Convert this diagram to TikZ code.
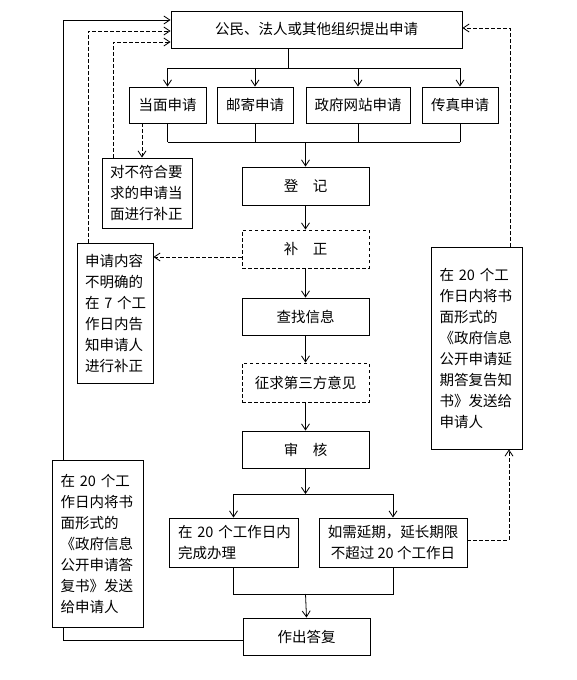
\documentclass[tikz,border=0pt]{standalone}
\usepackage{fontspec}
\setmainfont{Noto Sans CJK SC}
\usetikzlibrary{arrows.meta}
\begin{document}
\begin{tikzpicture}[x=1pt,y=-1pt,
  every node/.style={font=\fontsize{14.5}{21}\selectfont},
  box/.style={draw,line width=0.9pt,inner sep=0pt,fill=white},
  dbox/.style={box,dash pattern=on 3.5pt off 2.5pt},
  tbox/.style={draw,line width=0.9pt,fill=white,align=left,inner ysep=0pt},
  arr/.style={line width=0.8pt,-{Straight Barb[length=6pt,width=8pt]}},
  ln/.style={line width=0.8pt},
  darr/.style={arr,dash pattern=on 3.5pt off 2.5pt}]
\useasboundingbox (0,0) rectangle (576,680);
% main nodes
\node[box,minimum width=291,minimum height=37] (top) at (316.5,29.5) {公民、法人或其他组织提出申请};
\node[box,minimum width=77,minimum height=36] (r1) at (167.5,105) {当面申请};
\node[box,minimum width=76,minimum height=36] (r2) at (255,105) {邮寄申请};
\node[box,minimum width=104,minimum height=36] (r3) at (358,105) {政府网站申请};
\node[box,minimum width=76,minimum height=36] (r4) at (460,105) {传真申请};
\node[box,minimum width=127,minimum height=38] (dj) at (305.5,186) {登\hspace{1em}记};
\node[dbox,minimum width=127,minimum height=38] (bz) at (305.5,249) {补\hspace{1em}正};
\node[box,minimum width=127,minimum height=37] (cz) at (305.5,316.5) {查找信息};
\node[dbox,minimum width=127,minimum height=39] (zq) at (305.5,382.5) {征求第三方意见};
\node[box,minimum width=127,minimum height=37] (sh) at (305.5,449.5) {审\hspace{1em}核};
\node[tbox,text width=111,inner xsep=9,minimum height=49] (A) at (233.5,542.5) {在~20~个工作日内\\完成办理};
\node[box,align=center,minimum width=148,minimum height=49] (B) at (393,542.5) {如需延期，延长期限\\不超过~20~个工作日};
\node[box,minimum width=127,minimum height=37] (zd) at (306.5,636.5) {作出答复};
\node[tbox,text width=74,inner xsep=8,minimum height=70] (C) at (147,193) {对不符合要\\求的申请当\\面进行补正};
\node[tbox,text width=60,inner xsep=8,minimum height=140] (D) at (115,313) {申请内容\\不明确的\\在~7~个工\\作日内告\\知申请人\\进行补正};
\node[tbox,text width=74,inner xsep=8.5,minimum height=202] (E) at (476.5,348) {在~20~个工\\作日内将书\\面形式的\\《政府信息\\公开申请延\\期答复告知\\书》发送给\\申请人};
% coordinates
\coordinate (s1) at (288,68);
\coordinate (s2) at (305.5,142);
\coordinate (s3) at (305.5,494);
\coordinate (s4) at (305.5,594);
\coordinate (xL) at (63,0);
% top distribution
\draw[ln] (top.south -| s1) -- (s1);
\draw[ln] (s1 -| r1) -- (s1 -| r4);
\foreach \n in {r1,r2,r3,r4} \draw[arr] (s1 -| \n) -- (\n.north);
% gather
\foreach \n in {r1,r2,r3,r4} \draw[ln] (\n.south) -- (\n.south |- s2);
\draw[ln] (r1.south |- s2) -- (r4.south |- s2);
\draw[arr] (s2) -- (dj.north);
% main chain
\draw[arr] (dj) -- (bz);
\draw[arr] (bz) -- (cz);
\draw[arr] (cz) -- (zq);
\draw[arr] (zq) -- (sh);
\draw[arr] (sh.south) -- (s3);
\draw[ln] (s3 -| A.north) -- (s3 -| B.north);
\draw[arr] (s3 -| A.north) -- (A.north);
\draw[arr] (s3 -| B.north) -- (B.north);
\draw[ln] (A.south) -- (A.south |- s4) -- (B.south |- s4) -- (B.south);
\draw[arr] (s4) -- (zd.north);
% left feedback lines
\coordinate (tin1) at ([yshift=9.5pt]top.west);
\coordinate (tin2) at ([yshift=-1.5pt]top.west);
\coordinate (tin3) at ([yshift=-12.5pt]top.west);
\draw[arr] ([yshift=-3.5pt]zd.west) -| (xL |- tin1) -- (tin1);
\draw[darr] ([xshift=-27pt]D.north) |- (tin2);
\draw[darr] ([xshift=-34pt]C.north) |- (tin3);
\draw[darr] ([xshift=-25.5pt]r1.south) coordinate (t1) -- (t1 |- C.north);
\draw[darr] ([yshift=-8pt]bz.west) coordinate (t2) -- (t2 -| D.east);
% right feedback lines
\draw[darr] ([yshift=2.5pt]B.east) -| ([xshift=32.5pt]E.south);
\draw[darr] ([xshift=33.5pt]E.north) |- ([yshift=1.5pt]top.east);
% bottom-left box drawn over the solid return line
\node[tbox,text width=74,inner xsep=8.5,minimum height=167] (F) at (97.5,543.5) {在~20~个工\\作日内将书\\面形式的\\《政府信息\\公开申请答\\复书》发送\\给申请人};
\end{tikzpicture}
\end{document}
